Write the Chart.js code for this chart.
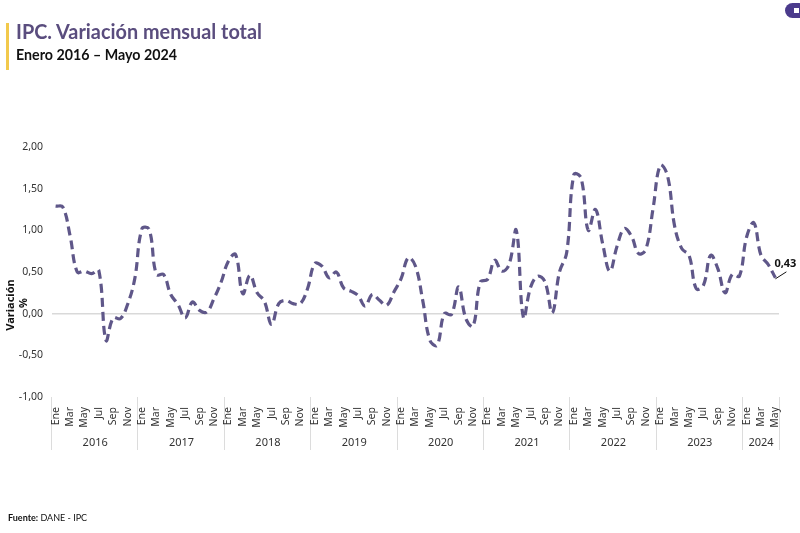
<!DOCTYPE html>
<html><head><meta charset="utf-8">
<script src="https://cdn.jsdelivr.net/npm/chart.js@4"></script>
<style>
body{margin:0;width:800px;height:533px;overflow:hidden;background:#fff;}
#c{position:absolute;left:0;top:0;}
.bar{position:absolute;left:6px;top:23px;width:3px;height:47px;background:#f2c94c;}
.title{position:absolute;left:16px;top:18px;font-family:Lato,'Noto Sans',sans-serif;font-weight:700;font-size:21px;color:#5a4d7e;white-space:nowrap;transform-origin:0 0;}
.sub{position:absolute;left:16px;top:45px;font-family:Lato,'Noto Sans',sans-serif;font-weight:700;font-size:15.5px;color:#111;white-space:nowrap;transform-origin:0 0;}
.foot{position:absolute;left:8px;top:512px;font-family:Lato,'Noto Sans',sans-serif;font-size:9px;color:#111;white-space:nowrap;}
.logo{position:absolute;left:785px;top:3px;width:17px;height:15px;background:#4b3b8c;border-radius:8px 3px 3px 8px;}
.logo:after{content:'';position:absolute;left:9px;top:5px;width:5px;height:5px;background:#fff;}
</style></head>
<body>
<canvas id="c" width="800" height="533"></canvas>
<div class="bar"></div>
<div class="title" id="t1">IPC. Variación mensual total</div>
<div class="sub" id="t2">Enero 2016 – Mayo 2024</div>
<div class="foot"><b>Fuente:</b> DANE - IPC</div>
<div class="logo"></div>
<script>
const years = ['2016','2017','2018','2019','2020','2021','2022','2023','2024'];
const monthNames = ['Ene','Feb','Mar','Abr','May','Jun','Jul','Ago','Sep','Oct','Nov','Dic'];
const v2016 = [1.29,1.28,0.94,0.50,0.51,0.48,0.52,-0.32,-0.05,-0.06,0.11,0.42];
const v2017 = [1.02,1.01,0.47,0.47,0.23,0.11,-0.05,0.14,0.04,0.02,0.18,0.38];
const v2018 = [0.63,0.71,0.24,0.46,0.25,0.15,-0.13,0.12,0.16,0.12,0.12,0.30];
const v2019 = [0.60,0.57,0.43,0.50,0.31,0.27,0.22,0.09,0.23,0.16,0.10,0.26];
const v2020 = [0.42,0.67,0.57,0.16,-0.32,-0.38,0.00,-0.01,0.32,-0.06,-0.15,0.38];
const v2021 = [0.41,0.64,0.51,0.59,1.00,-0.05,0.32,0.45,0.38,0.01,0.50,0.73];
const v2022 = [1.67,1.63,1.00,1.25,0.84,0.51,0.81,1.02,0.93,0.72,0.77,1.26];
const v2023 = [1.78,1.66,1.05,0.78,0.70,0.30,0.34,0.70,0.54,0.25,0.47,0.45];
const v2024 = [0.92,1.09,0.70,0.59,0.43];
const yearValues = [v2016,v2017,v2018,v2019,v2020,v2021,v2022,v2023,v2024];
const yTickMin = -1, yTickMax = 2, yTickStep = 0.5;

const labels = [], values = [];
yearValues.forEach(arr => arr.forEach((v,i) => { labels.push(monthNames[i]); values.push(v); }));

const fmt = v => v.toFixed(2).replace('.', ',');

const extras = {
  id:'extras',
  beforeDraw(chart){
    const {ctx, scales:{x}, chartArea} = chart;
    const half = (x.getPixelForValue(1) - x.getPixelForValue(0)) / 2;
    const top = chartArea.bottom, bot = chartArea.bottom + 53;
    ctx.save();
    ctx.strokeStyle = '#dcdcdc'; ctx.lineWidth = 1;
    ctx.fillStyle = '#333'; ctx.font = '11px "Noto Sans", sans-serif';
    ctx.textAlign = 'center'; ctx.textBaseline = 'middle';
    let idx = 0;
    yearValues.forEach((arr,k) => {
      const x0 = x.getPixelForValue(idx) - half;
      const x1 = x.getPixelForValue(idx + arr.length - 1) + half;
      ctx.beginPath(); ctx.moveTo(Math.round(x0)-0.5, top); ctx.lineTo(Math.round(x0)-0.5, bot); ctx.stroke();
      if (k === yearValues.length - 1) { ctx.beginPath(); ctx.moveTo(Math.round(x1)+0.5, top); ctx.lineTo(Math.round(x1)+0.5, bot); ctx.stroke(); }
      ctx.fillText(years[k], (x0 + x1) / 2, top + 46);
      idx += arr.length;
    });
    ctx.restore();
  },
  afterDraw(chart){
    const {ctx} = chart;
    ctx.save();
    ctx.textAlign = 'center'; ctx.textBaseline = 'middle';
    ctx.font = 'bold 11px "Noto Sans", sans-serif';
    ctx.fillStyle = '#111';
    ctx.save(); ctx.translate(11, 305); ctx.rotate(-Math.PI/2); ctx.fillText('Variación', 0, 0); ctx.restore();
    ctx.save(); ctx.translate(24, 303); ctx.rotate(-Math.PI/2); ctx.fillText('%', 0, 0); ctx.restore();
    const meta = chart.getDatasetMeta(0);
    const p = meta.data[meta.data.length - 1];
    ctx.strokeStyle = '#111'; ctx.lineWidth = 1;
    ctx.beginPath(); ctx.moveTo(p.x, p.y + 1); ctx.lineTo(p.x + 11, p.y - 6); ctx.stroke();
    ctx.textAlign = 'left'; ctx.textBaseline = 'alphabetic';
    ctx.fillText(fmt(values[values.length - 1]), p.x - 1, p.y - 11);
    ctx.restore();
  }
};

new Chart(document.getElementById('c'), {
  type:'line',
  data:{ labels, datasets:[{ data:values, borderColor:'#5f5789', borderWidth:3.2, borderDash:[9,5],
    pointRadius:0, tension:0.4, fill:false }] },
  options:{
    responsive:false, animation:false,
    layout:{padding:{left:0,right:21,top:147,bottom:96}},
    plugins:{legend:{display:false}, tooltip:{enabled:false}},
    scales:{
      x:{ type:'category', offset:true, grid:{display:false, drawTicks:false}, border:{display:false},
        ticks:{ autoSkip:false, minRotation:90, maxRotation:90, padding:10, color:'#333',
          font:{family:'"Noto Sans", sans-serif', size:10.5},
          callback:(v,i) => i % 2 === 0 ? labels[i] : '' },
        afterFit:s => { s.height = 40; } },
      y:{ min:yTickMin, max:yTickMax,
        ticks:{ stepSize:yTickStep, color:'#333', padding:9, font:{family:'"Noto Sans", sans-serif', size:10.5},
          callback:v => fmt(v) },
        grid:{ drawTicks:false, color:c => (c.tick && c.tick.value === 0) ? '#d9d9d9' : 'rgba(0,0,0,0)', lineWidth:1.5 },
        border:{display:false},
        afterFit:s => { s.width = 52; } }
    }
  },
  plugins:[extras]
});

function fitW(id, w){ const el=document.getElementById(id); const r=el.getBoundingClientRect().width; el.style.transform='scaleX('+(w/r)+')'; }
fitW('t1', 246); fitW('t2', 161);
</script>
</body></html>
